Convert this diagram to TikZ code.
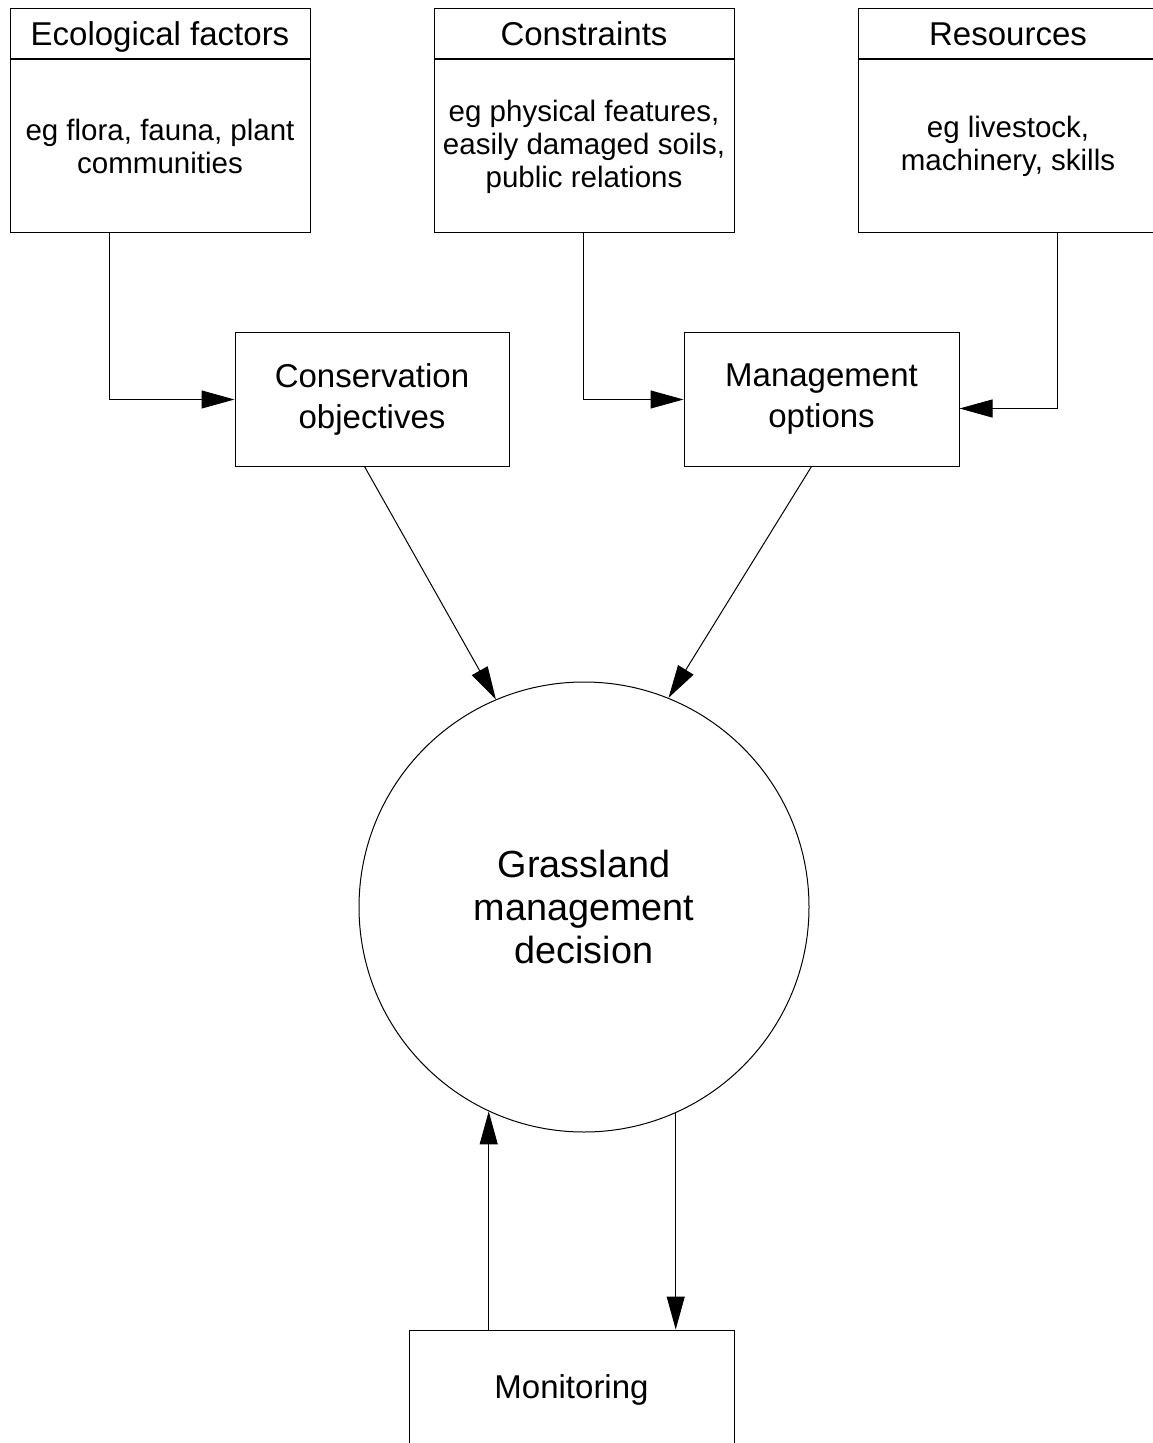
\documentclass[tikz,border=0pt]{standalone}
\usepackage{fontspec}
\setmainfont{Liberation Sans}
\usepackage{tikz}
\usetikzlibrary{arrows.meta,shapes}

\begin{document}
\begin{tikzpicture}[x=0.5pt, y=-0.5pt,
  every path/.style={line width=0.5pt},
  hdrbox/.style={draw, rectangle, inner sep=0pt, minimum width=150pt, minimum height=25pt, text height=14pt, text depth=2pt, font=\fontsize{16.5}{19}\selectfont},
  egbox/.style={draw, rectangle, inner sep=0pt, minimum width=150pt, minimum height=86.5pt, align=center, font=\fontsize{14.75}{16.5}\selectfont},
  midbox/.style={draw, rectangle, inner sep=0pt, minimum height=66.5pt, align=center, font=\fontsize{16.5}{20.5}\selectfont},
  arr/.style={black, line width=0.5pt, -{Triangle[length=16.5pt, width=9pt]}}]
\useasboundingbox (0,0) rectangle (1152,1443);

\node [hdrbox] (ecohead) at (160,34) {Ecological factors};
\node [egbox, anchor=north] (ecobody) at (ecohead.south) {eg flora, fauna, plant\\communities};
\node [hdrbox] (conhead) at (584,34) {Constraints};
\node [egbox, anchor=north] (conbody) at (conhead.south) {eg physical features,\\easily damaged soils,\\public relations};
\node [hdrbox] (reshead) at (1008,34) {Resources};
\node [egbox, anchor=north] (resbody) at (reshead.south) {eg livestock,\\machinery, skills};

\node [midbox, minimum width=137pt] (conserv) at (372,399.5) {Conservation\\objectives};
\node [midbox, minimum width=137.5pt] (mgmt) at (821.5,399.5) {Management\\options};

\node [draw, circle, inner sep=0pt, minimum size=225pt, align=center, font=\fontsize{18.9}{21.5}\selectfont] (grass) at (584,907) {Grassland\\management\\decision};

\node [draw, rectangle, inner sep=0pt, minimum width=162.5pt, minimum height=57.5pt, text height=13pt, text depth=2.5pt, font=\fontsize{16.5}{19}\selectfont] (monit) at (571.5,1387.5) {Monitoring};

\draw [arr] ([xshift=50pt]ecobody.south west) |- (conserv.west);
\draw [arr] ([xshift=75pt]conbody.south west) |- (mgmt.west);
\draw [arr] ([xshift=100pt]resbody.south west) |- ([yshift=-4.5pt]mgmt.east);

\draw [arr] ([xshift=65pt]conserv.south west) -- (grass.113.9);
\draw [arr] ([xshift=64pt]mgmt.south west) -- (grass.68.4);

\draw [arr] (grass.245.6 |- monit.north) -- (grass.245.6);
\draw [arr] (grass.294) -- (grass.294 |- monit.north);

\end{tikzpicture}
\end{document}
